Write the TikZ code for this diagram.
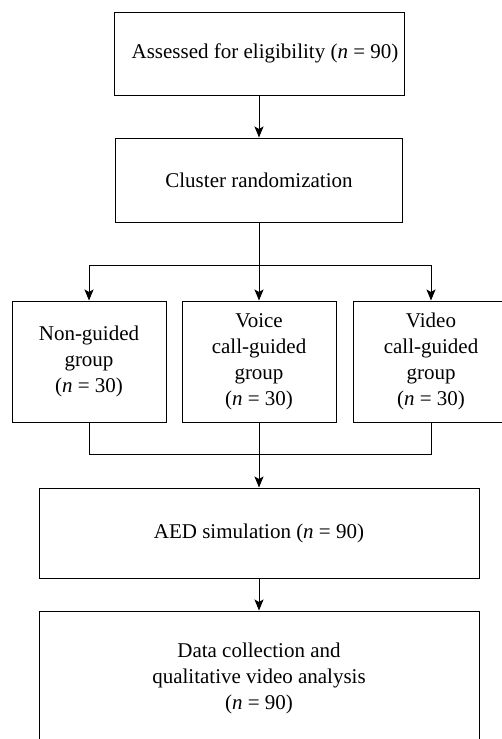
\documentclass[tikz,border=0pt]{standalone}
\usepackage{fontspec}
\setmainfont{Liberation Serif}
\usetikzlibrary{arrows.meta}
\newcommand{\nn}[1]{(\textit{n} = #1)}
\begin{document}
\begin{tikzpicture}[x=1pt,y=1pt,
  box/.style={draw, line width=1pt, align=center, inner sep=0pt,
    font=\fontsize{21}{26}\selectfont},
  conn/.style={line width=1pt},
  arr/.style={line width=1pt, -{Stealth[length=11pt,width=9pt,inset=2.5pt]}}]
\useasboundingbox (0,0) rectangle (502,-739);
\clip (0,0) rectangle (502,-739);
\node[box, minimum width=290, minimum height=83] (b1) at (259,-53.5) {\hspace*{12pt}Assessed for eligibility \nn{90}};
\node[box, minimum width=287, minimum height=84] (b2) at (259,-180) {Cluster randomization};
\node[box, minimum width=154, minimum height=121] (ga) at (89,-361.5) {Non-guided\\group\\\nn{30}};
\node[box, minimum width=154, minimum height=121] (gb) at (259,-361.5) {Voice\\call-guided\\group\\\nn{30}};
\node[box, minimum width=156, minimum height=121] (gc) at (431,-361.5) {Video\\call-guided\\group\\\nn{30}};
\node[box, minimum width=440, minimum height=90] (aed) at (259,-533) {AED simulation \nn{90}};
\node[box, minimum width=440, minimum height=134] (dc) at (259,-678) {Data collection and\\qualitative video analysis\\\nn{90}};
\coordinate (split) at (259,-265);
\coordinate (merge) at (259,-454);
\draw[arr] (b1.south) -- (b2.north);
\draw[conn] (b2.south) -- (split);
\draw[arr] (split) -| (ga.north);
\draw[arr] (split) -- (gb.north);
\draw[arr] (split) -| (gc.north);
\draw[conn] (ga.south) |- (merge);
\draw[conn] (gc.south) |- (merge);
\draw[conn] (gb.south) -- (merge);
\draw[arr] (merge) -- (aed.north);
\draw[arr] (aed.south) -- (dc.north);
\end{tikzpicture}
\end{document}
